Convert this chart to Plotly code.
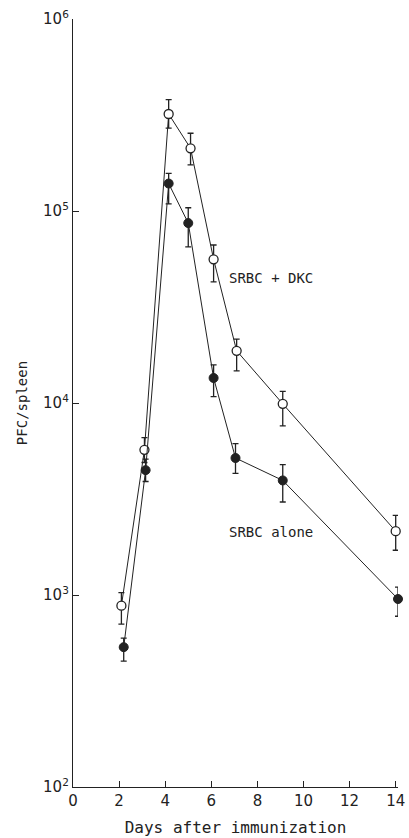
import plotly.graph_objects as go

# Days after immunization (as plotted)
days_dkc = [2.1, 3.1, 4.15, 5.1, 6.1, 7.1, 9.1, 14.0]
days_alone = [2.2, 3.15, 4.15, 5.0, 6.1, 7.05, 9.1, 14.1]

# SRBC + DKC (open circles)
pfc_dkc = [880, 5700, 320000, 212000, 56000, 18700, 9900, 2150]
hi_dkc = [1030, 6600, 380000, 254000, 66500, 21500, 11500, 2600]
lo_dkc = [706, 4900, 270000, 174000, 42700, 14700, 7600, 1710]

# SRBC alone (filled circles)
pfc_alone = [535, 4470, 139000, 86500, 13500, 5170, 3950, 953]
hi_alone = [596, 5100, 157000, 104000, 15800, 6150, 4780, 1100]
lo_alone = [452, 3900, 109000, 65000, 10800, 4300, 3050, 775]

y_tickvals = [100, 1000, 10000, 100000, 1000000]
y_ticktext = ["10<sup>2</sup>", "10<sup>3</sup>", "10<sup>4</sup>", "10<sup>5</sup>", "10<sup>6</sup>"]
x_tickvals = [0, 2, 4, 6, 8, 10, 12, 14]

def errs(v, hi, lo):
    return [h - x for x, h in zip(v, hi)], [x - l for x, l in zip(v, lo)]

fig = go.Figure()

up, dn = errs(pfc_dkc, hi_dkc, lo_dkc)
fig.add_trace(go.Scatter(
    x=days_dkc, y=pfc_dkc, mode="lines+markers",
    line=dict(color="#222", width=1),
    marker=dict(symbol="circle", size=9, color="white", line=dict(color="#222", width=1.3)),
    error_y=dict(type="data", symmetric=False, array=up, arrayminus=dn,
                 color="#222", thickness=1.3, width=3),
    showlegend=False, cliponaxis=False))

up, dn = errs(pfc_alone, hi_alone, lo_alone)
fig.add_trace(go.Scatter(
    x=days_alone, y=pfc_alone, mode="lines+markers",
    line=dict(color="#222", width=1),
    marker=dict(symbol="circle", size=9, color="#222", line=dict(color="#222", width=1)),
    error_y=dict(type="data", symmetric=False, array=up, arrayminus=dn,
                 color="#222", thickness=1.3, width=3),
    showlegend=False, cliponaxis=False))

fig.add_annotation(x=6.7, y=4.65, xref="x", yref="y", text="SRBC + DKC",
                   showarrow=False, xanchor="left",
                   font=dict(family="DejaVu Sans Mono, monospace", size=14, color="#222"))
fig.add_annotation(x=6.7, y=3.33, xref="x", yref="y", text="SRBC alone",
                   showarrow=False, xanchor="left",
                   font=dict(family="DejaVu Sans Mono, monospace", size=14, color="#222"))

fig.update_xaxes(range=[0, 14.1], tickvals=x_tickvals, ticks="inside", ticklen=6,
                 tickwidth=1.2, tickcolor="#222", showline=True, linecolor="#222",
                 linewidth=1.3, showgrid=False, zeroline=False, automargin=False,
                 tickfont=dict(family="DejaVu Sans, sans-serif", size=15, color="#222"),
                 title=dict(text="Days after immunization", standoff=12,
                            font=dict(family="DejaVu Sans Mono, monospace", size=16, color="#222")))
fig.update_yaxes(type="log", range=[2, 6], tickvals=y_tickvals, ticktext=y_ticktext,
                 ticks="inside", ticklen=6, tickwidth=1.2, tickcolor="#222",
                 showline=True, linecolor="#222", linewidth=1.3, showgrid=False,
                 zeroline=False, automargin=False,
                 tickfont=dict(family="DejaVu Sans, sans-serif", size=15, color="#222"),
                 title=dict(text="PFC/spleen", standoff=12,
                            font=dict(family="DejaVu Sans Mono, monospace", size=14, color="#222")))

fig.update_layout(width=409, height=838, margin=dict(l=73, r=11, t=19, b=51),
                  plot_bgcolor="white", paper_bgcolor="white")

fig.write_html("out.html", config={"displayModeBar": False},
               post_script="document.body.style.margin='0';document.body.style.overflow='hidden';")
